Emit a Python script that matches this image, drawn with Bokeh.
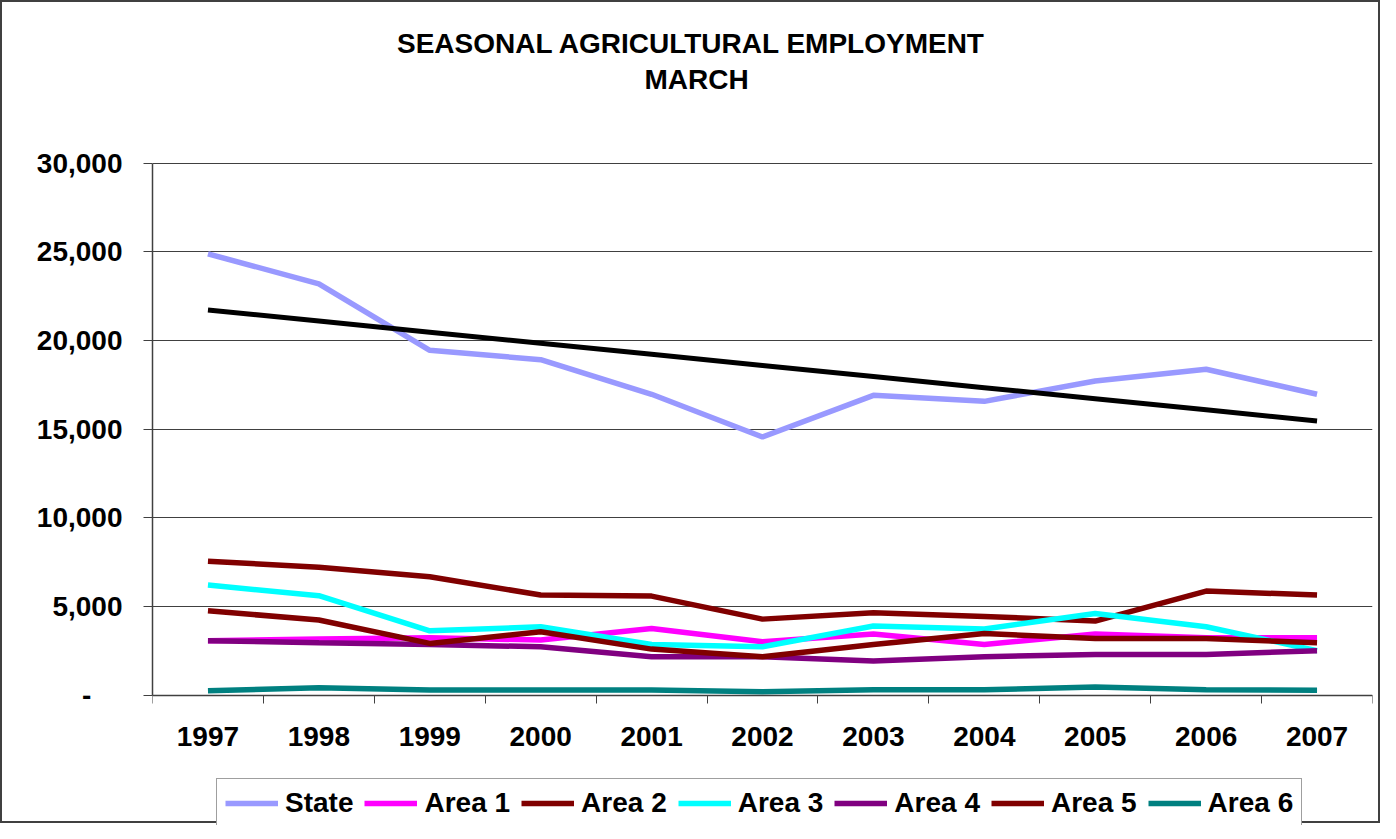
import numpy as np
from bokeh.plotting import figure
from bokeh.models import Range1d, FixedTicker, NumeralTickFormatter, Label
from bokeh.embed import file_html
from bokeh.resources import INLINE

# ---------------- data ----------------
years = [1997, 1998, 1999, 2000, 2001, 2002, 2003, 2004, 2005, 2006, 2007]
state = [24890, 23200, 19450, 18920, 16970, 14560, 16910, 16570, 17720, 18380, 16970]
area1 = [3070, 3170, 3240, 3110, 3760, 3010, 3450, 2860, 3450, 3240, 3240]
area2 = [7560, 7220, 6680, 5650, 5590, 4290, 4650, 4440, 4180, 5870, 5650]
area3 = [6210, 5610, 3630, 3860, 2860, 2730, 3900, 3730, 4610, 3860, 2510]
area4 = [3070, 2960, 2860, 2730, 2170, 2170, 1930, 2170, 2300, 2300, 2510]
area5 = [4760, 4240, 2920, 3580, 2600, 2170, 2860, 3480, 3200, 3200, 2960]
area6 = [250, 420, 290, 290, 290, 200, 310, 310, 460, 310, 280]
series_names = ["State", "Area 1", "Area 2", "Area 3", "Area 4", "Area 5", "Area 6"]
y_ticks = [0, 5000, 10000, 15000, 20000, 25000, 30000]
title_lines = ["SEASONAL AGRICULTURAL EMPLOYMENT", "MARCH"]

colors = ["#9999FF", "#FF00FF", "#800000", "#00FFFF", "#800080", "#800000", "#008080"]
FONT = "Liberation Sans"

# The frame spans the full height; the value axis covers 0..30,000 and the
# range is widened so that title, year labels and legend fit inside the frame.
Y_MIN, Y_MAX = 0, 30000
CANVAS_H = 823
PX_PER_UNIT = 532 / 30000.0
y_lo = -(CANVAS_H - 692.7) / PX_PER_UNIT
y_hi = Y_MAX + 160.7 / PX_PER_UNIT

p = figure(width=1380, height=CANVAS_H, output_backend="svg", toolbar_location=None,
           x_range=Range1d(1996.5, 2007.5), y_range=Range1d(y_lo, y_hi),
           min_border_left=150, min_border_right=10, min_border_top=0, min_border_bottom=0)
p.styles = {"border": "2px solid #404040", "box-sizing": "border-box"}
p.outline_line_color = None
p.background_fill_color = "white"
p.border_fill_color = "white"
p.title.visible = False

# grid
p.xgrid.grid_line_color = None
p.ygrid.grid_line_color = "#404040"
p.ygrid.grid_line_width = 1
p.ygrid.ticker = FixedTicker(ticks=y_ticks)

# x axis at y = 0: labels at years, tick marks between categories
xa = p.xaxis[0]
xa.fixed_location = 0
xa.ticker = FixedTicker(ticks=years, minor_ticks=[y - 0.5 for y in years] + [years[-1] + 0.5])
xa.major_tick_out = 0
xa.major_tick_in = 0
xa.minor_tick_out = 8
xa.minor_tick_in = 0
xa.minor_tick_line_color = "#404040"
xa.axis_line_color = "#404040"
xa.axis_line_width = 1.5
xa.major_label_text_font = FONT
xa.major_label_text_font_style = "bold"
xa.major_label_text_font_size = "28px"
xa.major_label_text_color = "black"
xa.major_label_standoff = 24

# y axis
ya = p.yaxis[0]
ya.bounds = (Y_MIN, Y_MAX)
ya.ticker = FixedTicker(ticks=y_ticks)
ya.formatter = NumeralTickFormatter(format="0,0")
ya.major_label_overrides = {0: "-\u00a0\u00a0\u00a0\u00a0"}
ya.major_tick_out = 9
ya.major_tick_in = 0
ya.minor_tick_out = 0
ya.minor_tick_in = 0
ya.major_tick_line_color = "#404040"
ya.axis_line_color = "#404040"
ya.axis_line_width = 1.5
ya.major_label_text_font = FONT
ya.major_label_text_font_style = "bold"
ya.major_label_text_font_size = "28px"
ya.major_label_text_color = "black"
ya.major_label_standoff = 21

# lines
all_series = [state, area1, area2, area3, area4, area5, area6]
for name, vals, c in zip(series_names, all_series, colors):
    p.line(years, vals, line_width=5.5, line_color=c, legend_label=name)

# linear trend of State
coef = np.polyfit(years, state, 1)
trend = np.polyval(coef, years)
p.line(years, trend, line_width=5, line_color="black")

# title (two lines)
for txt, off, xo in zip(title_lines, [120, 84], [-71, -66]):
    p.add_layout(Label(x=2002, y=Y_MAX, x_offset=xo, y_offset=off, text=txt,
                       text_align="center", text_baseline="middle", text_font=FONT,
                       text_font_style="bold", text_font_size="28px", text_color="black"))

# legend
lg = p.legend[0]
lg.orientation = "horizontal"
lg.location = (64, -3)
lg.label_text_font = FONT
lg.label_text_font_style = "bold"
lg.label_text_font_size = "28px"
lg.label_text_color = "black"
lg.glyph_width = 53
lg.glyph_height = 20
lg.label_standoff = 7
lg.spacing = 11
lg.padding = 8
lg.margin = 0
lg.border_line_color = "#404040"
lg.border_line_width = 1.5
lg.background_fill_alpha = 1.0

open("out.html", "w").write(file_html(p, INLINE))
